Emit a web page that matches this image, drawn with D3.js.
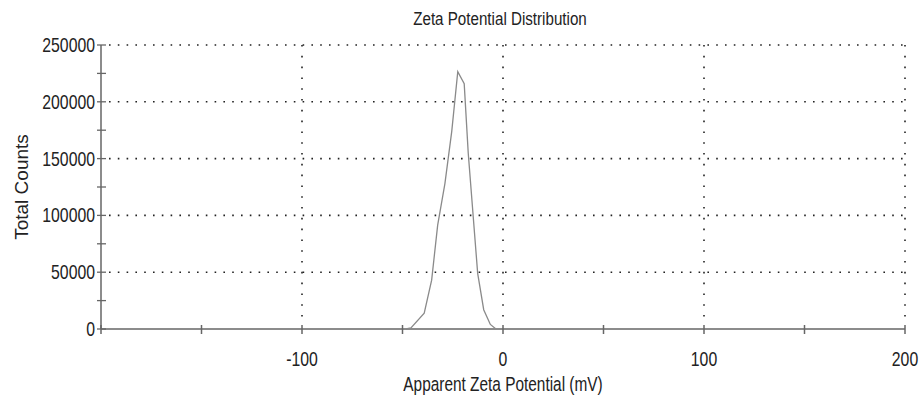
<!DOCTYPE html>
<html>
<head>
    <title>Zeta Potential Distribution</title>
    <script src="https://d3js.org/d3.v7.min.js"></script>
    <style>
        body { margin: 0; background: #fff; }
        text { font-family: "Liberation Sans", Arial, sans-serif; fill: #222; }
        .grid line { stroke: #222; stroke-width: 1.6; }
    </style>
</head>
<body>
<script>
    // apparent zeta potential (mV) and total counts
    const zeta = [-48.3, -45.8, -39.2, -35.5, -32.5, -28.9, -25.5, -22.5, -19.3, -17.3, -12.6, -9.6, -6.3, -3.5];
    const counts = [0, 1000, 14000, 43000, 91500, 128000, 174000, 226500, 216000, 155000, 49000, 17000, 4000, 0];

    const xTicks = [-200, -150, -100, -50, 0, 50, 100, 150, 200];
    const xLabels = [-100, 0, 100, 200];
    const yTicks = [0, 25000, 50000, 75000, 100000, 125000, 150000, 175000, 200000, 225000, 250000];
    const yLabels = [0, 50000, 100000, 150000, 200000, 250000];

    const width = 920, height = 404;
    const margin = {left: 101, right: 15, top: 45, bottom: 75};

    const x = d3.scaleLinear()
        .domain([-200, 200])
        .range([margin.left, width - margin.right]);
    const y = d3.scaleLinear()
        .domain([0, 250000])
        .range([height - margin.bottom, margin.top]);

    const svg = d3.select("body").append("svg")
        .attr("width", width)
        .attr("height", height);

    // the original font is tall and narrow, so squeeze it horizontally
    const squeeze = 0.79;
    const narrow = (px, py) => "translate(" + px + "," + py + ") scale(" + squeeze + ",1)";

    // dotted grid
    const grid = svg.append("g").attr("class", "grid");
    grid.selectAll(".h")
        .data(yLabels.filter(d => d > 0))
        .join("line")
        .attr("x1", x(-200) + 8).attr("x2", x(200))
        .attr("y1", d => y(d)).attr("y2", d => y(d))
        .attr("stroke-dasharray", "1.6,7.2");
    grid.selectAll(".v")
        .data(xLabels)
        .join("line")
        .attr("x1", d => x(d)).attr("x2", d => x(d))
        .attr("y1", y(250000)).attr("y2", y(0) - 5)
        .attr("stroke-dasharray", "1.6,9.2");

    // axes
    const axisColor = "#666";
    svg.append("line")
        .attr("x1", x(-200)).attr("x2", x(200))
        .attr("y1", y(0)).attr("y2", y(0))
        .attr("stroke", axisColor).attr("stroke-width", 1.5);
    svg.append("line")
        .attr("x1", x(-200)).attr("x2", x(-200))
        .attr("y1", y(0)).attr("y2", y(250000))
        .attr("stroke", axisColor).attr("stroke-width", 1.5);

    svg.selectAll(".xt")
        .data(xTicks)
        .join("line")
        .attr("x1", d => x(d)).attr("x2", d => x(d))
        .attr("y1", y(0) - 4).attr("y2", y(0) + 5)
        .attr("stroke", axisColor).attr("stroke-width", 1.5);
    svg.selectAll(".yt")
        .data(yTicks)
        .join("line")
        .attr("x1", x(-200) - 4).attr("x2", x(-200) + 5)
        .attr("y1", d => y(d)).attr("y2", d => y(d))
        .attr("stroke", axisColor).attr("stroke-width", 1.3);

    svg.selectAll(".xl")
        .data(xLabels)
        .join("text")
        .attr("transform", d => narrow(x(d), y(0) + 37))
        .attr("text-anchor", "middle")
        .style("font-size", "20px")
        .text(d => d);
    svg.selectAll(".yl")
        .data(yLabels)
        .join("text")
        .attr("transform", d => narrow(x(-200) - 6, y(d) + 7))
        .attr("text-anchor", "end")
        .style("font-size", "20px")
        .text(d => d);

    // titles
    svg.append("text")
        .attr("transform", "translate(500,25) scale(0.82,1)")
        .attr("text-anchor", "middle")
        .style("font-size", "18.5px")
        .text("Zeta Potential Distribution");
    svg.append("text")
        .attr("transform", narrow(503, 391))
        .attr("text-anchor", "middle")
        .style("font-size", "19.5px")
        .text("Apparent Zeta Potential (mV)");
    svg.append("text")
        .attr("transform", "translate(28," + y(125000) + ") rotate(-90)")
        .attr("text-anchor", "middle")
        .style("font-size", "19px")
        .text("Total Counts");

    // distribution curve
    const line = d3.line()
        .x((d, i) => x(zeta[i]))
        .y(d => y(d));
    svg.append("path")
        .datum(counts)
        .attr("d", line)
        .attr("fill", "none")
        .attr("stroke", "#8a8a8a")
        .attr("stroke-width", 1.3);
</script>
</body>
</html>
